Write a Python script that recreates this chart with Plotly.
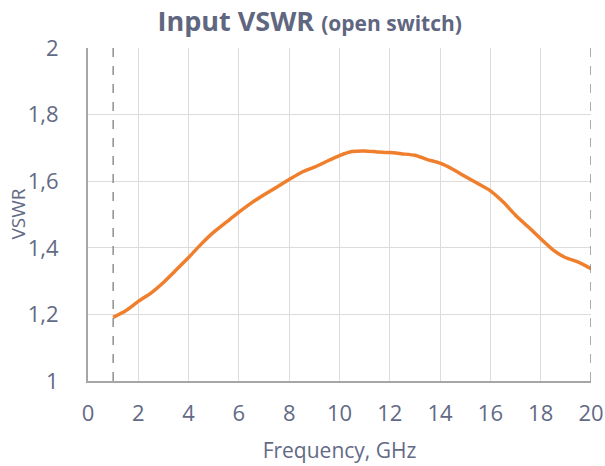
import plotly.graph_objects as go

freq = [1, 1.5, 2, 2.5, 3, 3.5, 4, 4.5, 5, 5.5, 6, 6.5, 7, 7.5, 8, 8.5, 9, 9.5, 10,
        10.5, 11, 11.5, 12, 12.5, 13, 13.5, 14, 14.5, 15, 15.5, 16, 16.5, 17, 17.5,
        18, 18.5, 19, 19.5, 20]
vswr = [1.191, 1.211, 1.239, 1.264, 1.296, 1.333, 1.371, 1.411, 1.447, 1.477, 1.507,
        1.535, 1.559, 1.582, 1.605, 1.627, 1.642, 1.660, 1.677, 1.689, 1.691, 1.688,
        1.686, 1.682, 1.678, 1.665, 1.654, 1.636, 1.614, 1.593, 1.571, 1.538, 1.498,
        1.463, 1.427, 1.393, 1.370, 1.357, 1.337]

x_ticks = [0, 2, 4, 6, 8, 10, 12, 14, 16, 18, 20]
y_ticks = [1, 1.2, 1.4, 1.6, 1.8, 2]
y_ticktext = ["1", "1,2", "1,4", "1,6", "1,8", "2"]
band_edges = [1, 20]

txt = "#636a85"
fig = go.Figure()
fig.add_trace(go.Scatter(x=freq, y=vswr, mode="lines",
                         line=dict(color="#f07f2d", width=3.5, shape="spline", smoothing=0.5),
                         hoverinfo="skip", showlegend=False))

for xe in band_edges:
    fig.add_shape(type="line", x0=xe, x1=xe, y0=1, y1=2, xref="x", yref="y",
                  line=dict(color="#7f7f7f", width=1.3, dash="dash"), layer="above")

fig.add_annotation(text="VSWR", xref="paper", yref="paper", x=-0.141, y=0.5,
                   xanchor="center", yanchor="middle", textangle=-90, showarrow=False,
                   font=dict(size=19, color=txt, family="Open Sans"))

fig.update_layout(
    width=605, height=466,
    margin=dict(l=88, r=14, t=48, b=85),
    paper_bgcolor="white", plot_bgcolor="white",
    font=dict(family="Open Sans", color=txt),
    title=dict(text="<b>Input VSWR</b> <b><span style='font-size:21px'>(open switch)</span></b>",
               x=0.512, xanchor="center", y=0.953, yanchor="middle",
               font=dict(size=27, color="#5f6680", family="Open Sans")),
    xaxis=dict(range=[0, 20], tickvals=x_ticks, ticktext=[str(v) for v in x_ticks],
               showgrid=True, gridcolor="#dcdcdc", gridwidth=1.2,
               showline=True, linecolor="#a6a6a6", linewidth=2,
               ticks="", ticklabelstandoff=12, zeroline=False, automargin=False,
               tickfont=dict(size=22, color=txt),
               title=dict(text="Frequency, GHz", font=dict(size=21, color=txt), standoff=17)),
    yaxis=dict(range=[1, 2], tickvals=y_ticks, ticktext=y_ticktext,
               showgrid=True, gridcolor="#dcdcdc", gridwidth=1.2,
               showline=True, linecolor="#a6a6a6", linewidth=2,
               ticks="", ticklabelstandoff=23, zeroline=False, automargin=False,
               tickfont=dict(size=22, color=txt)),
)

fig.write_html("out.html", config={"displayModeBar": False},
               post_script="document.body.style.margin='0';")
